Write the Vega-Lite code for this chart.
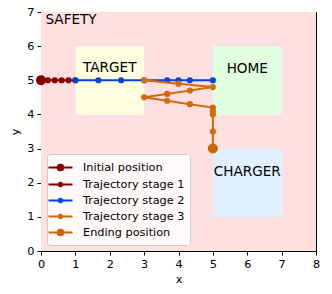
{
  "$schema": "https://vega.github.io/schema/vega-lite/v6.json",
  "autosize": {"type": "none"},
  "width": 275,
  "height": 239,
  "padding": {"left": 41, "top": 12, "right": 16, "bottom": 43},
  "background": "white",
  "config": {
    "font": "DejaVu Sans",
    "view": {"stroke": "black", "strokeWidth": 1},
    "axis": {
      "grid": false,
      "domainColor": "black",
      "tickColor": "black",
      "tickSize": 4,
      "labelPadding": 3,
      "labelFontSize": 11.3,
      "labelColor": "black",
      "labelOverlap": false,
      "labelFlush": false,
      "titleFontSize": 11.3,
      "titleFontWeight": "normal",
      "titleColor": "black"
    },
    "legend": {
      "title": null,
      "orient": "bottom-left",
      "offset": 6,
      "padding": 5,
      "fillColor": "rgba(255,255,255,0.8)",
      "strokeColor": "#cccccc",
      "cornerRadius": 3,
      "labelFontSize": 11.3,
      "labelColor": "black",
      "labelOffset": 14,
      "rowPadding": 1,
      "symbolSize": 225,
      "symbolStrokeWidth": 2,
      "symbolOpacity": 1
    }
  },
  "datasets": {
    "regions": [
      {"region": "SAFETY", "x": 0, "x2": 8, "y": 0, "y2": 7},
      {"region": "TARGET", "x": 1, "x2": 3, "y": 4, "y2": 6},
      {"region": "HOME", "x": 5, "x2": 7, "y": 4, "y2": 6},
      {"region": "CHARGER", "x": 5, "x2": 7, "y": 1, "y2": 3}
    ],
    "labels": [
      {"label": "SAFETY", "x": 0.13, "y": 6.77},
      {"label": "TARGET", "x": 2.0, "y": 5.36},
      {"label": "HOME", "x": 6.0, "y": 5.33},
      {"label": "CHARGER", "x": 6.0, "y": 2.32}
    ],
    "traj": [
      {"series": "Trajectory stage 1", "i": 0, "x": 0, "y": 5},
      {"series": "Trajectory stage 1", "i": 1, "x": 0.2, "y": 5},
      {"series": "Trajectory stage 1", "i": 2, "x": 0.4, "y": 5},
      {"series": "Trajectory stage 1", "i": 3, "x": 0.6, "y": 5},
      {"series": "Trajectory stage 1", "i": 4, "x": 0.8, "y": 5},
      {"series": "Trajectory stage 1", "i": 5, "x": 1.0, "y": 5},
      {"series": "Trajectory stage 2", "i": 0, "x": 1.0, "y": 5},
      {"series": "Trajectory stage 2", "i": 1, "x": 1.67, "y": 5},
      {"series": "Trajectory stage 2", "i": 2, "x": 2.33, "y": 5},
      {"series": "Trajectory stage 2", "i": 3, "x": 3.0, "y": 5},
      {"series": "Trajectory stage 2", "i": 4, "x": 3.67, "y": 5},
      {"series": "Trajectory stage 2", "i": 5, "x": 4.0, "y": 5},
      {"series": "Trajectory stage 2", "i": 6, "x": 4.33, "y": 5},
      {"series": "Trajectory stage 2", "i": 7, "x": 5.0, "y": 5},
      {"series": "Trajectory stage 3", "i": 0, "x": 3.0, "y": 5.0},
      {"series": "Trajectory stage 3", "i": 1, "x": 4.0, "y": 4.9},
      {"series": "Trajectory stage 3", "i": 2, "x": 5.0, "y": 4.8},
      {"series": "Trajectory stage 3", "i": 3, "x": 4.33, "y": 4.7},
      {"series": "Trajectory stage 3", "i": 4, "x": 3.67, "y": 4.6},
      {"series": "Trajectory stage 3", "i": 5, "x": 3.0, "y": 4.5},
      {"series": "Trajectory stage 3", "i": 6, "x": 3.67, "y": 4.4},
      {"series": "Trajectory stage 3", "i": 7, "x": 4.33, "y": 4.3},
      {"series": "Trajectory stage 3", "i": 8, "x": 5.0, "y": 4.2},
      {"series": "Trajectory stage 3", "i": 9, "x": 5.0, "y": 4.1},
      {"series": "Trajectory stage 3", "i": 10, "x": 5.0, "y": 4.0},
      {"series": "Trajectory stage 3", "i": 11, "x": 5.0, "y": 3.5},
      {"series": "Trajectory stage 3", "i": 12, "x": 5.0, "y": 3.0},
      {"series": "Initial position", "i": 0, "x": 0, "y": 5},
      {"series": "Ending position", "i": 0, "x": 5, "y": 3}
    ],
    "legend": [
      {"series": "Initial position"},
      {"series": "Trajectory stage 1"},
      {"series": "Trajectory stage 2"},
      {"series": "Trajectory stage 3"},
      {"series": "Ending position"}
    ]
  },
  "encoding": {
    "x": {"field": "x", "type": "quantitative", "scale": {"domain": [0, 8], "nice": false, "zero": false}, "axis": {"values": [0,1,2,3,4,5,6,7,8], "tickCount": 9, "labelOverlap": false, "title": "x", "titlePadding": 4}},
    "y": {"field": "y", "type": "quantitative", "scale": {"domain": [0, 7], "nice": false, "zero": false}, "axis": {"values": [0,1,2,3,4,5,6,7], "tickCount": 8, "labelOverlap": false, "title": "y", "titlePadding": 6}}
  },
  "layer": [
    {
      "data": {"name": "regions"},
      "mark": {"type": "rect"},
      "encoding": {
        "x2": {"field": "x2"},
        "y2": {"field": "y2"},
        "color": {"field": "region", "type": "nominal", "legend": null,
          "scale": {"domain": ["SAFETY", "TARGET", "HOME", "CHARGER"], "range": ["#ffe0e0", "#ffffe0", "#e0ffe0", "#e0f0ff"]}}
      }
    },
    {
      "data": {"name": "labels"},
      "transform": [{"filter": "datum.label == 'SAFETY'"}],
      "mark": {"type": "text", "fontSize": 13.6, "color": "black", "baseline": "middle", "align": "left"},
      "encoding": {"text": {"field": "label"}}
    },
    {
      "data": {"name": "labels"},
      "transform": [{"filter": "datum.label != 'SAFETY'"}],
      "mark": {"type": "text", "fontSize": 13.6, "color": "black", "baseline": "middle", "align": "center"},
      "encoding": {"text": {"field": "label"}}
    },
    {
      "data": {"name": "traj"},
      "transform": [{"filter": "datum.series == 'Trajectory stage 1'"}],
      "mark": {"type": "line", "color": "#8b0000", "strokeWidth": 2, "point": {"filled": true, "size": 38, "opacity": 1, "color": "#8b0000"}},
      "encoding": {"order": {"field": "i"}}
    },
    {
      "data": {"name": "traj"},
      "transform": [{"filter": "datum.series == 'Trajectory stage 2'"}],
      "mark": {"type": "line", "color": "#0044dd", "strokeWidth": 2, "point": {"filled": true, "size": 38, "opacity": 1, "color": "#0044dd"}},
      "encoding": {"order": {"field": "i"}}
    },
    {
      "data": {"name": "traj"},
      "transform": [{"filter": "datum.series == 'Trajectory stage 3'"}],
      "mark": {"type": "line", "color": "#d26a0e", "strokeWidth": 2, "point": {"filled": true, "size": 38, "opacity": 1, "color": "#d26a0e"}},
      "encoding": {"order": {"field": "i"}}
    },
    {
      "data": {"name": "traj"},
      "transform": [{"filter": "datum.series == 'Initial position'"}],
      "mark": {"type": "point", "filled": true, "opacity": 1, "size": 100, "color": "#800000"},
      "encoding": {}
    },
    {
      "data": {"name": "traj"},
      "transform": [{"filter": "datum.series == 'Ending position'"}],
      "mark": {"type": "point", "filled": true, "opacity": 1, "size": 100, "color": "#cc6600"},
      "encoding": {}
    },
    {
      "data": {"name": "legend"},
      "transform": [{"filter": "false"}],
      "mark": {"type": "point", "filled": true, "opacity": 1, "strokeWidth": 2},
      "encoding": {
        "fill": {"field": "series", "type": "nominal",
          "scale": {"domain": ["Initial position", "Trajectory stage 1", "Trajectory stage 2", "Trajectory stage 3", "Ending position"],
                    "range": ["#800000", "#8b0000", "#0044dd", "#d26a0e", "#cc6600"]}},
        "stroke": {"field": "series", "type": "nominal",
          "scale": {"domain": ["Initial position", "Trajectory stage 1", "Trajectory stage 2", "Trajectory stage 3", "Ending position"],
                    "range": ["#800000", "#8b0000", "#0044dd", "#d26a0e", "#cc6600"]}},
        "shape": {"field": "series", "type": "nominal",
          "scale": {"domain": ["Initial position", "Trajectory stage 1", "Trajectory stage 2", "Trajectory stage 3", "Ending position"],
                    "range": [
                      "M-1.6,0L1.6,0M0.38,0A0.38,0.38,0,1,1,-0.38,0A0.38,0.38,0,1,1,0.38,0Z",
                      "M-1.6,0L1.6,0M0.23,0A0.23,0.23,0,1,1,-0.23,0A0.23,0.23,0,1,1,0.23,0Z",
                      "M-1.6,0L1.6,0M0.23,0A0.23,0.23,0,1,1,-0.23,0A0.23,0.23,0,1,1,0.23,0Z",
                      "M-1.6,0L1.6,0M0.23,0A0.23,0.23,0,1,1,-0.23,0A0.23,0.23,0,1,1,0.23,0Z",
                      "M-1.6,0L1.6,0M0.38,0A0.38,0.38,0,1,1,-0.38,0A0.38,0.38,0,1,1,0.38,0Z"
                    ]}}
      }
    }
  ]
}
